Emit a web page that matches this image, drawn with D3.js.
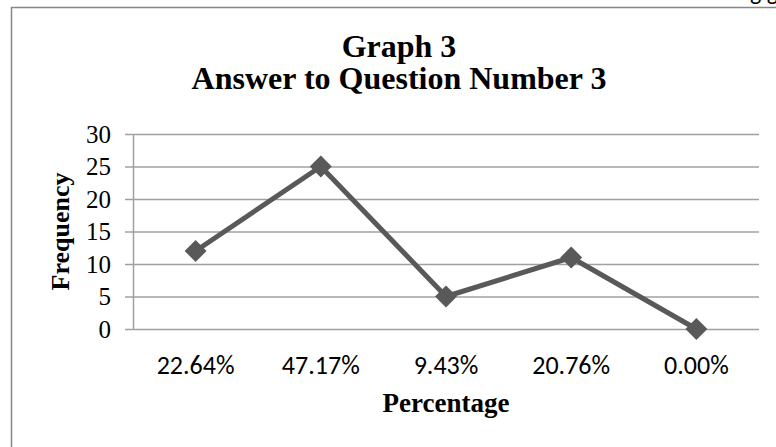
<!DOCTYPE html>
<html>
<head>
<meta charset="utf-8">
<script src="https://cdn.jsdelivr.net/npm/d3@7"></script>
<style>
  body { margin: 0; background: #fff; }
  svg { display: block; }
  .serif { font-family: "Liberation Serif", "Times New Roman", serif; fill: #000; }
  .sans { font-family: Carlito, Calibri, "Open Sans", sans-serif; fill: #000; }
</style>
</head>
<body>
<div id="chart"></div>
<script>
// chart data
const categories = ['22.64%', '47.17%', '9.43%', '20.76%', '0.00%'];
const frequency = [12, 25, 5, 11, 0];
const yTicks = [0, 5, 10, 15, 20, 25, 30];

const W = 776, H = 447;
const plot = { left: 133, right: 759, top: 134, bottom: 329 };

const svg = d3.select('#chart').append('svg')
    .attr('width', W)
    .attr('height', H);

// fragments of the document text cut off at the top edge
svg.append('text').attr('class', 'sans').attr('x', -6).attr('y', 0)
    .attr('font-size', 24).text('p');
svg.append('text').attr('class', 'sans').attr('x', 778).attr('y', 0)
    .attr('text-anchor', 'end').attr('font-size', 24).text('following g');

// chart border
svg.append('rect')
    .attr('x', 11.5).attr('y', 7.5)
    .attr('width', 800).attr('height', 460)
    .attr('fill', 'none')
    .attr('stroke', '#868686')
    .attr('stroke-width', 1.5);

const x = d3.scaleBand().domain(categories).range([plot.left, plot.right]);
const y = d3.scaleLinear().domain([0, 30]).range([plot.bottom, plot.top]);
const cx = d => x(d) + x.bandwidth() / 2;

// gridlines
svg.append('g')
    .attr('transform', `translate(${plot.left},0)`)
    .call(d3.axisLeft(y).tickValues(yTicks).tickSize(-(plot.right - plot.left)).tickFormat(''))
    .call(g => g.select('.domain').remove())
    .call(g => g.selectAll('line').attr('stroke', '#a0a0a0').attr('stroke-width', 1.5));

// y axis with outside ticks
svg.append('g')
    .attr('transform', `translate(${plot.left},0)`)
    .call(d3.axisLeft(y).tickValues(yTicks).tickSize(8).tickPadding(14).tickSizeOuter(0))
    .call(g => g.select('.domain').attr('stroke', '#a0a0a0').attr('stroke-width', 1.5))
    .call(g => g.selectAll('line').attr('stroke', '#a0a0a0').attr('stroke-width', 1.5))
    .call(g => g.selectAll('text')
        .attr('class', 'serif')
        .attr('font-size', 25)
        .attr('fill', '#000'));

// category labels
svg.append('g')
    .selectAll('text')
    .data(categories)
    .join('text')
    .attr('class', 'sans')
    .attr('x', d => cx(d))
    .attr('y', 374)
    .attr('text-anchor', 'middle')
    .attr('font-size', 26)
    .text(d => d);

// line + diamond markers
const pts = categories.map((c, i) => ({ c, v: frequency[i] }));

svg.append('path')
    .datum(pts)
    .attr('fill', 'none')
    .attr('stroke', '#595959')
    .attr('stroke-width', 5)
    .attr('stroke-linejoin', 'round')
    .attr('d', d3.line().x(d => cx(d.c)).y(d => y(d.v)));

svg.append('g')
    .selectAll('path')
    .data(pts)
    .join('path')
    .attr('d', d3.symbol().type(d3.symbolSquare).size(240))
    .attr('transform', d => `translate(${cx(d.c)},${y(d.v)}) rotate(45)`)
    .attr('fill', '#595959');

// titles
svg.append('text').attr('class', 'serif')
    .attr('x', 399).attr('y', 57)
    .attr('text-anchor', 'middle')
    .attr('font-size', 32).attr('font-weight', 'bold')
    .text('Graph 3');
svg.append('text').attr('class', 'serif')
    .attr('x', 399).attr('y', 89)
    .attr('text-anchor', 'middle')
    .attr('font-size', 32).attr('font-weight', 'bold')
    .text('Answer to Question Number 3');

svg.append('text').attr('class', 'serif')
    .attr('transform', `translate(69,${(plot.top + plot.bottom) / 2}) rotate(-90)`)
    .attr('text-anchor', 'middle')
    .attr('font-size', 26).attr('font-weight', 'bold')
    .text('Frequency');

svg.append('text').attr('class', 'serif')
    .attr('x', (plot.left + plot.right) / 2).attr('y', 412)
    .attr('text-anchor', 'middle')
    .attr('font-size', 27).attr('font-weight', 'bold')
    .text('Percentage');
</script>
</body>
</html>
